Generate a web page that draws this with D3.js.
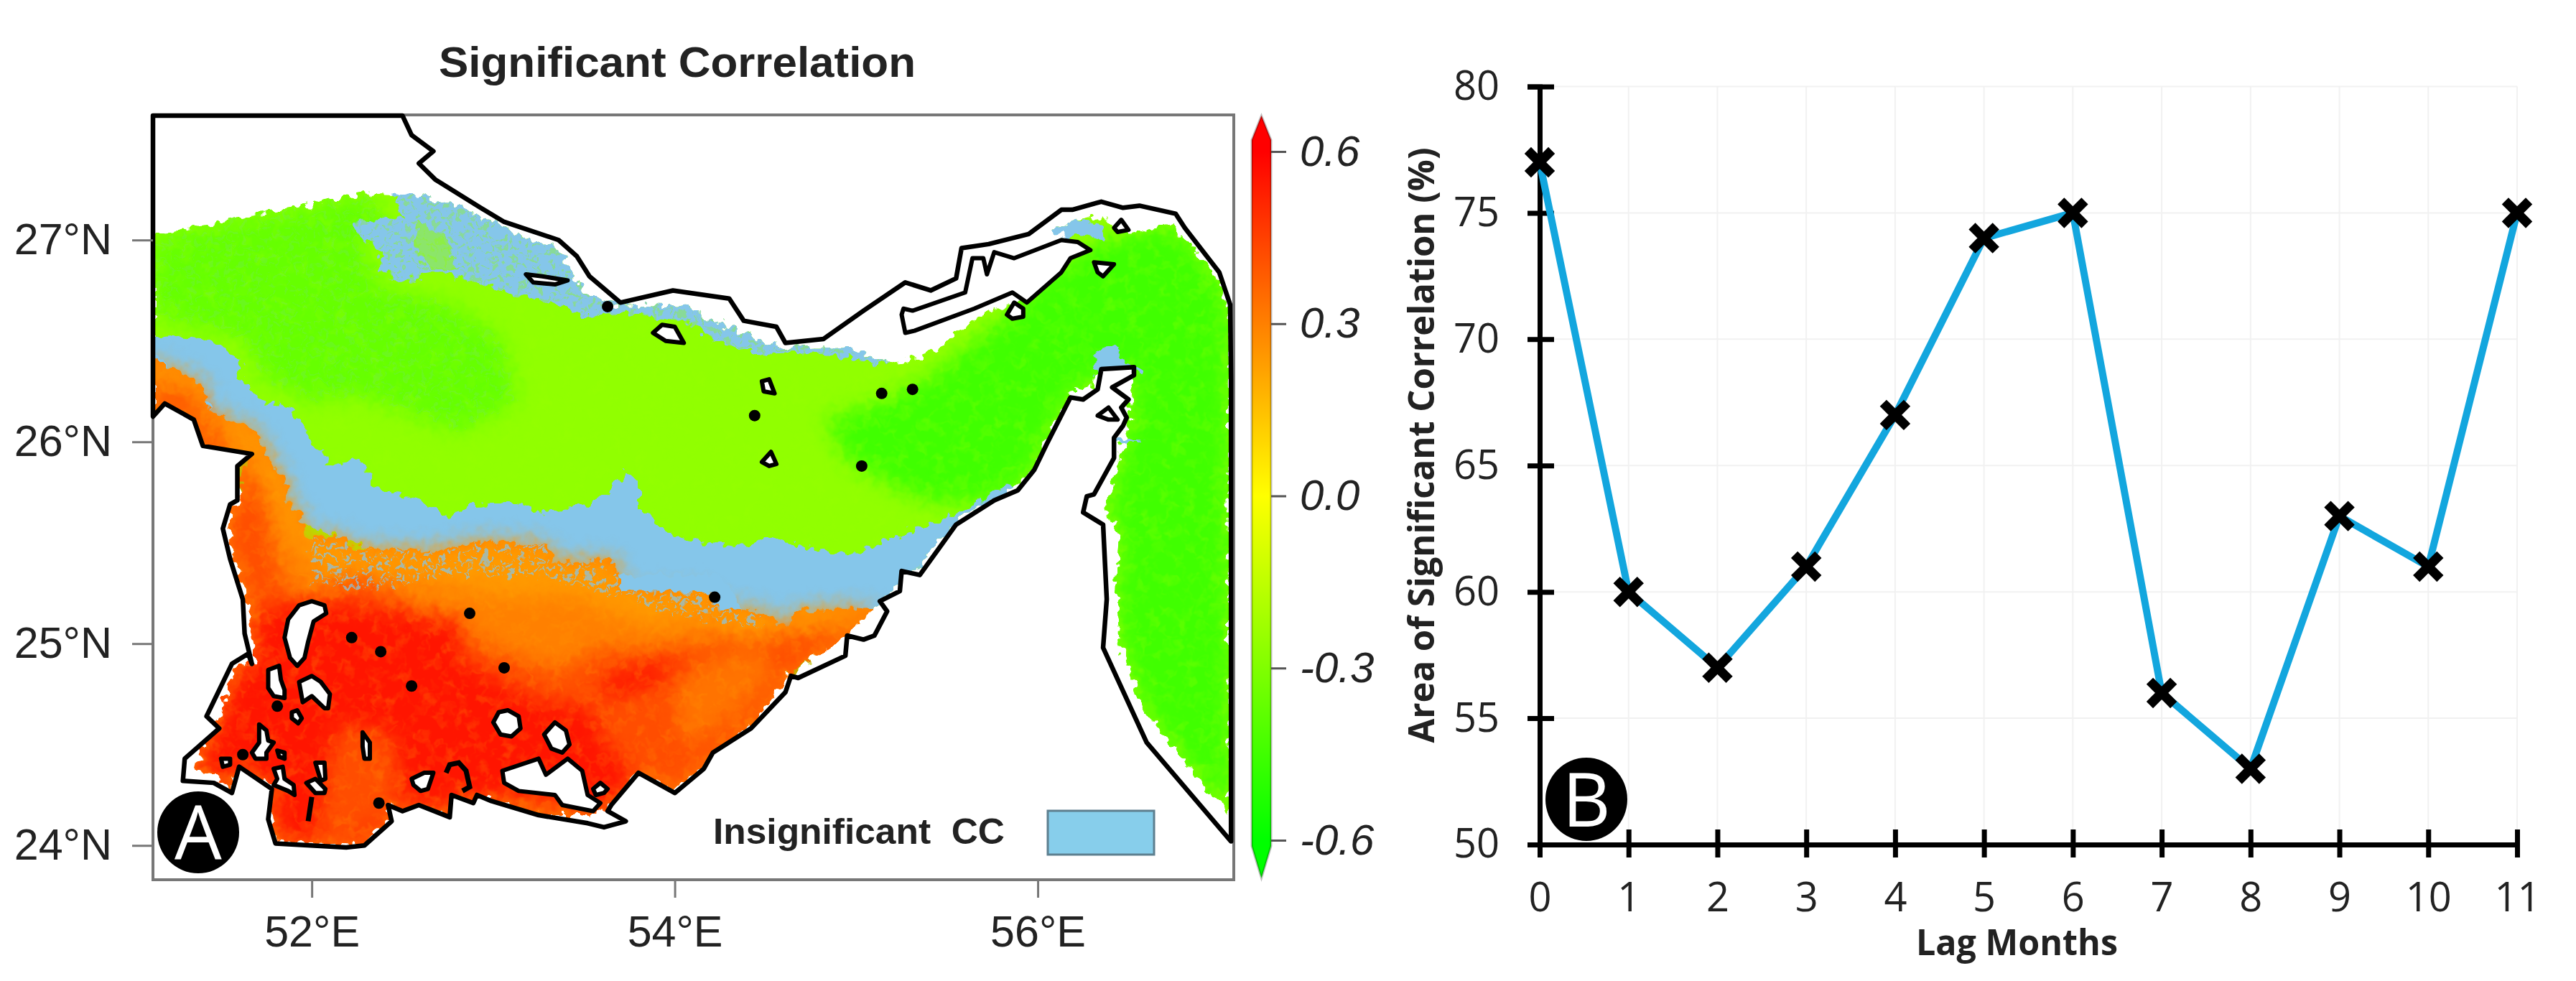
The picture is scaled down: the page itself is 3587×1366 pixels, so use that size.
<!DOCTYPE html>
<html>
<head>
<meta charset="utf-8">
<script src="https://cdn.jsdelivr.net/npm/d3@7"></script>
<style>
  html, body { margin: 0; padding: 0; background: #fff; }
  svg { display: block; }
  text { fill: #222; }
  .map-label { font-family: "Liberation Sans", Arial, sans-serif; font-size: 61px; }
  .cb-label { font-family: "Liberation Sans", Arial, sans-serif; font-size: 60px; font-style: italic; }
  .tick-b { font-family: "Liberation Sans Narrow", "Open Sans", sans-serif; font-size: 56px; }
  .title-b { font-family: "Open Sans", sans-serif; font-weight: 700; font-size: 50px; }
</style>
</head>
<body>
<svg id="chart" width="3587" height="1366"></svg>
<script>
// Panel B values
const lagMonths = [0, 1, 2, 3, 4, 5, 6, 7, 8, 9, 10, 11];
const areaPct = [77, 60, 57, 61, 67, 74, 75, 56, 53, 63, 61, 75];
const areaTicks = [50, 55, 60, 65, 70, 75, 80];

// Panel A ticks
const lonTicks = [52, 54, 56];
const latTicks = [24, 25, 26, 27];
const ccTicks = [0.6, 0.3, 0.0, -0.3, -0.6];
const ccStops = [-0.6, -0.3, 0, 0.3, 0.6];
const ccOutline = [[-1, -0.61], [0, -0.666], [1, -0.61], [1, 0.62], [0, 0.6625], [-1, 0.62]];

// Correlation of each digitized patch (estimated from its colour)
const ccLime = -0.26, ccGreenNW = -0.36, ccGreenE = -0.45;
const ccFringe = 0.24, ccOrange = 0.3, ccMid = 0.42, ccCore = 0.55, ccPatch = 0.33;

// Coastline in lon/lat, going round the sea from the west end of the Iranian side
const coastNorth = [[51.125,26.125],[51.125,27.616],[52.50,27.616],[52.55,27.52],[52.67,27.44],[52.59,27.38],[52.68,27.30],[52.93,27.16],[53.06,27.09],[53.36,27.00],[53.46,26.92],[53.53,26.82],[53.70,26.69],[53.99,26.75],[54.30,26.71],[54.38,26.60],[54.56,26.57],[54.61,26.49],[54.82,26.51],[55.04,26.65],[55.27,26.79],[55.41,26.75],[55.55,26.81],[55.58,26.96],[55.73,26.98],[55.95,27.03],[56.13,27.15],[56.19,27.15],[56.35,27.19],[56.47,27.16],[56.56,27.17],[56.76,27.13],[56.81,27.06],[57.00,26.84],[57.06,26.68],[57.065,26.31],[57.065,24.02]];
const coastSouth = [[56.60,24.51],[56.36,24.98],[56.38,25.22],[56.36,25.59],[56.25,25.65],[56.27,25.73],[56.31,25.74],[56.42,25.92],[56.42,26.02],[56.47,26.08],[56.49,26.12],[56.46,26.17],[56.50,26.21],[56.41,26.27],[56.53,26.33],[56.53,26.37],[56.35,26.36],[56.33,26.26],[56.25,26.21],[56.18,26.22],[56.05,25.99],[55.98,25.86],[55.89,25.76],[55.76,25.71],[55.62,25.63],[55.55,25.59],[55.35,25.34],[55.25,25.36],[55.24,25.26],[55.13,25.21],[55.17,25.16],[55.10,25.04],[55.04,25.02],[54.95,25.04],[54.94,24.94],[54.68,24.83],[54.64,24.84],[54.61,24.76],[54.42,24.58],[54.21,24.46],[54.16,24.38],[54.00,24.26],[53.80,24.36],[53.65,24.20],[53.63,24.17],[53.73,24.12],[53.61,24.09],[53.52,24.11],[53.25,24.15],[52.99,24.22],[52.91,24.25],[52.89,24.21],[52.77,24.25],[52.76,24.14],[52.59,24.20],[52.50,24.17],[52.42,24.20],[52.44,24.12],[52.29,24.00],[52.19,23.99],[51.80,24.01],[51.76,24.13],[51.78,24.28],[51.60,24.39],[51.56,24.26],[51.46,24.31],[51.29,24.32],[51.30,24.43],[51.49,24.58],[51.42,24.64],[51.56,24.90],[51.65,24.95],[51.67,24.90],[51.63,25.05],[51.62,25.22],[51.55,25.42],[51.51,25.57],[51.55,25.69],[51.59,25.71],[51.59,25.88],[51.67,25.94],[51.40,25.98],[51.35,26.11],[51.19,26.19]];

// Islands drawn white with a black outline
const islands = [
  [[55.26,26.66],[55.31,26.65],[55.60,26.74],[55.64,26.91],[55.70,26.91],[55.72,26.83],[55.76,26.94],[55.87,26.91],[56.13,27.00],[56.22,26.99],[56.29,26.95],[56.18,26.91],[56.13,26.84],[55.94,26.69],[55.86,26.74],[55.65,26.66],[55.32,26.55],[55.27,26.54],[55.25,26.63]],
  [[55.83,26.63],[55.87,26.69],[55.92,26.66],[55.92,26.62],[55.86,26.61]],
  [[56.31,26.89],[56.42,26.88],[56.36,26.82],[56.33,26.84]],
  [[56.42,27.06],[56.46,27.10],[56.50,27.05],[56.44,27.04]],
  [[56.33,26.13],[56.39,26.17],[56.44,26.11],[56.39,26.11]],
  [[53.18,26.83],[53.27,26.82],[53.41,26.80],[53.34,26.78],[53.22,26.79]],
  [[53.88,26.54],[53.93,26.58],[54.00,26.57],[54.05,26.49],[53.95,26.50]],
  [[54.48,26.30],[54.52,26.31],[54.55,26.24],[54.49,26.25]],
  [[54.48,25.90],[54.53,25.95],[54.56,25.89],[54.52,25.88]],
  [[52.00,25.21],[52.07,25.19],[52.08,25.15],[52.01,25.11],[51.98,25.01],[51.96,24.93],[51.92,24.89],[51.88,24.93],[51.85,25.03],[51.87,25.12],[51.93,25.19]],
  [[51.76,24.87],[51.82,24.89],[51.83,24.82],[51.85,24.77],[51.85,24.73],[51.79,24.74],[51.76,24.78]],
  [[51.93,24.81],[52.00,24.84],[52.05,24.81],[52.10,24.75],[52.09,24.68],[52.07,24.68],[52.00,24.74],[51.95,24.71]],
  [[51.89,24.66],[51.92,24.67],[51.945,24.63],[51.925,24.605],[51.89,24.63]],
  [[51.71,24.60],[51.75,24.57],[51.76,24.52],[51.79,24.51],[51.75,24.46],[51.75,24.43],[51.69,24.43],[51.67,24.46],[51.71,24.51]],
  [[51.81,24.47],[51.85,24.46],[51.85,24.43],[51.82,24.44]],
  [[51.50,24.43],[51.55,24.43],[51.55,24.40],[51.51,24.39]],
  [[51.79,24.38],[51.84,24.39],[51.85,24.33],[51.90,24.30],[51.905,24.25],[51.87,24.27],[51.79,24.30],[51.81,24.33]],
  [[52.02,24.41],[52.07,24.41],[52.075,24.33],[52.05,24.32]],
  [[51.97,24.31],[52.02,24.33],[52.075,24.28],[52.07,24.26],[52.02,24.26]],
  [[52.28,24.56],[52.32,24.51],[52.32,24.43],[52.29,24.43],[52.28,24.49]],
  [[52.55,24.33],[52.62,24.36],[52.67,24.36],[52.64,24.28],[52.60,24.27],[52.56,24.30]],
  [[53.00,24.61],[53.03,24.66],[53.08,24.67],[53.14,24.64],[53.15,24.58],[53.10,24.54],[53.04,24.55]],
  [[53.28,24.55],[53.34,24.61],[53.40,24.57],[53.42,24.50],[53.38,24.46],[53.32,24.48]],
  [[53.05,24.37],[53.25,24.43],[53.29,24.35],[53.41,24.43],[53.49,24.37],[53.52,24.25],[53.59,24.21],[53.55,24.17],[53.38,24.20],[53.34,24.25],[53.14,24.27],[53.06,24.31]],
  [[53.55,24.28],[53.59,24.31],[53.63,24.28],[53.61,24.26],[53.565,24.25]]
];
// Open strokes: the loop east of the central islets and the thin spit
const islandLines = [
  [[52.74,24.36],[52.76,24.40],[52.81,24.41],[52.85,24.37],[52.87,24.29],[52.83,24.27]],
  [[52.00,24.24],[51.98,24.12]]
];
// Islets too small to show anything but ink
const islets = [[55.03,25.88],[55.14,26.24],[55.31,26.26],[54.44,26.13],[53.63,26.67],[52.87,25.15],[53.06,24.88],[54.22,25.23],[52.22,25.03],[52.38,24.96],[52.55,24.79],[52.37,24.21],[51.81,24.69],[51.62,24.45]];

// Digitized extents of the correlation field
const limeArea = [[51.125,27.02],[52.30,27.23],[52.63,27.22],[52.81,27.17],[53.06,27.06],[53.36,26.95],[53.44,26.81],[53.56,26.71],[53.69,26.68],[54.07,26.67],[54.21,26.60],[54.53,26.48],[54.62,26.46],[54.95,26.47],[55.18,26.39],[55.38,26.42],[55.53,26.53],[55.72,26.65],[55.90,26.69],[56.06,26.83],[56.24,26.94],[56.09,27.05],[56.21,27.10],[56.36,27.12],[56.42,27.06],[56.51,27.03],[56.74,27.08],[56.81,27.01],[57.00,26.80],[57.05,26.66],[57.06,24.16],[56.92,24.29],[56.60,24.65],[56.45,25.00],[56.43,25.22],[56.45,25.54],[56.38,25.65],[56.42,25.82],[56.50,26.06],[56.53,26.35],[56.32,26.36],[56.31,26.27],[56.19,26.26],[56.05,26.01],[55.97,25.86],[55.87,25.77],[55.66,25.67],[55.55,25.61],[55.35,25.39],[55.19,25.25],[55.09,25.17],[54.64,24.84],[54.24,25.34],[52.66,25.34],[51.87,25.34],[51.63,25.70],[51.43,26.20],[51.125,26.44]];
const greenEast = [[55.15,26.20],[55.43,26.34],[55.82,26.62],[56.06,26.83],[56.24,26.94],[56.36,27.00],[56.51,27.03],[56.74,27.08],[56.81,27.01],[57.00,26.80],[57.05,26.66],[57.06,24.16],[56.92,24.29],[56.60,24.65],[56.45,25.00],[56.43,25.22],[56.45,25.54],[56.38,25.65],[56.42,25.82],[56.50,26.06],[56.53,26.35],[56.32,26.36],[56.31,26.27],[56.19,26.26],[56.05,26.01],[55.97,25.86],[55.87,25.77],[55.66,25.70],[55.40,25.70],[55.23,25.77],[54.95,25.91],[54.83,26.12]];
const greenNW = [[51.125,27.02],[52.30,27.23],[52.42,27.12],[52.26,26.98],[52.38,26.77],[52.74,26.69],[53.05,26.52],[53.13,26.20],[52.81,26.05],[52.26,26.23],[51.98,26.20],[51.71,26.33],[51.63,26.51],[51.125,26.62]];
const blueBand = [[51.125,26.51],[51.35,26.53],[51.51,26.48],[51.61,26.41],[51.60,26.33],[51.71,26.20],[51.87,26.17],[51.97,26.05],[51.98,25.99],[52.08,25.95],[52.08,25.88],[52.26,25.91],[52.31,25.85],[52.34,25.78],[52.58,25.72],[52.75,25.63],[52.87,25.69],[53.13,25.70],[53.27,25.65],[53.50,25.68],[53.65,25.75],[53.73,25.86],[53.80,25.80],[53.80,25.67],[54.00,25.53],[54.25,25.49],[54.35,25.48],[54.53,25.53],[54.78,25.46],[55.01,25.45],[55.24,25.54],[55.43,25.60],[55.56,25.65],[55.83,25.79],[55.88,25.77],[55.66,25.67],[55.55,25.61],[55.35,25.39],[55.19,25.25],[55.09,25.17],[54.64,25.06],[52.66,25.34],[51.87,25.63],[51.47,26.09],[51.125,26.34]];
const blueNorth = [[52.45,27.23],[52.63,27.22],[52.81,27.17],[53.06,27.06],[53.36,26.95],[53.44,26.81],[53.56,26.71],[53.69,26.68],[54.07,26.67],[54.21,26.60],[54.53,26.48],[54.62,26.46],[54.95,26.47],[55.18,26.39],[55.13,26.38],[54.78,26.44],[54.53,26.43],[54.25,26.49],[54.07,26.60],[53.72,26.64],[53.49,26.62],[53.41,26.67],[53.11,26.73],[52.91,26.79],[52.70,26.84],[52.48,26.79],[52.38,26.85],[52.38,26.95],[52.25,27.03],[52.23,27.09],[52.50,27.11]];
const limeInNorth = [[52.60,27.09],[52.74,27.01],[52.81,26.85],[52.66,26.85],[52.56,26.96]];
const blueStrait = [[56.09,27.05],[56.21,27.10],[56.35,27.07],[56.36,27.00],[56.23,27.03],[56.14,27.01]];
const blueOman = [[56.35,26.47],[56.44,26.47],[56.47,26.39],[56.57,26.36],[56.53,26.33],[56.33,26.36],[56.31,26.33],[56.30,26.37]];
const blueOman2 = [[56.44,26.02],[56.57,26.01],[56.57,26.00],[56.44,25.98]];
const southCoast = [[54.94,25.04],[54.65,24.86],[54.42,24.59],[54.16,24.39],[54.00,24.27],[53.80,24.36],[53.66,24.20],[53.53,24.15],[53.25,24.15],[52.99,24.22],[52.91,24.25],[52.89,24.21],[52.77,24.25],[52.76,24.14],[52.59,24.20],[52.50,24.17],[52.42,24.20],[52.43,24.12],[52.28,24.00],[51.80,24.02],[51.78,24.16],[51.78,24.29],[51.65,24.36],[51.59,24.38],[51.55,24.27],[51.52,24.31],[51.35,24.39],[51.49,24.63],[51.53,24.77],[51.60,24.90],[51.69,24.90],[51.66,25.06],[51.65,25.22],[51.57,25.42],[51.53,25.57],[51.56,25.68],[51.61,25.70],[51.61,25.86],[51.67,25.93],[51.40,25.96],[51.35,26.11],[51.19,26.18],[51.125,26.125]];
const orangeTop = [[51.125,26.41],[51.20,26.37],[51.35,26.31],[51.41,26.26],[51.42,26.16],[51.52,26.12],[51.68,26.06],[51.73,25.98],[51.81,25.85],[51.86,25.81],[51.86,25.70],[51.94,25.64],[51.97,25.53],[52.18,25.53],[52.22,25.47],[52.44,25.47],[52.66,25.46],[52.96,25.51],[53.29,25.49],[53.35,25.40],[53.66,25.42],[53.72,25.27],[53.93,25.26],[54.17,25.26],[54.25,25.18],[54.48,25.16],[54.62,25.08],[54.67,25.16],[55.11,25.18]];
const orangeArea = orangeTop.concat(southCoast);
const fringeLow = [[54.83,25.02],[54.44,24.99],[54.16,25.13],[53.84,25.09],[53.45,25.23],[53.05,25.23],[52.70,25.31],[52.34,25.34],[52.06,25.34],[51.92,25.48],[51.79,25.63],[51.63,25.84],[51.51,26.05],[51.31,26.20],[51.125,26.34]];
const fringeArea = orangeTop.concat(fringeLow);
const fringeSpeckle = [[51.97,25.53],[52.18,25.53],[52.22,25.47],[52.44,25.47],[52.66,25.46],[52.96,25.51],[53.29,25.49],[53.35,25.40],[53.66,25.42],[53.72,25.27],[53.93,25.26],[54.17,25.26],[54.25,25.18],[54.48,25.16],[54.48,25.08],[54.00,25.14],[53.60,25.25],[53.20,25.33],[52.70,25.33],[52.35,25.26],[52.00,25.30]];
const midTop = [[51.125,26.27],[51.32,26.25],[51.43,26.09],[51.65,25.88],[51.75,25.73],[51.77,25.48],[51.885,25.23],[52.06,25.25],[52.26,25.34],[52.66,25.13],[53.01,24.97],[53.36,24.86],[53.57,24.97],[53.98,24.97],[54.25,25.02],[54.44,25.02],[54.95,25.09],[55.09,25.16]];
const midArea = midTop.concat(southCoast);
const orangePatch = [[54.03,24.83],[54.25,24.94],[54.44,24.97],[54.58,24.88],[54.32,24.63],[54.08,24.49],[54.00,24.63]];
const redCore = [[51.67,25.10],[51.79,25.19],[52.21,25.20],[52.44,25.16],[52.83,25.12],[52.81,24.94],[53.04,24.81],[53.28,24.71],[53.55,24.68],[53.61,24.52],[53.76,24.38],[53.80,24.36],[53.66,24.20],[53.57,24.17],[53.37,24.24],[53.05,24.25],[52.89,24.21],[52.77,24.25],[52.76,24.14],[52.59,24.20],[52.50,24.17],[52.42,24.20],[52.43,24.12],[52.28,24.00],[51.80,24.02],[51.78,24.29],[51.65,24.36],[51.59,24.38],[51.55,24.27],[51.52,24.31],[51.35,24.39],[51.49,24.63],[51.53,24.77],[51.60,24.90],[51.69,24.90]];
const midSouth = [[52.14,24.59],[52.44,24.56],[52.50,24.24],[52.26,24.04],[52.02,24.02],[52.06,24.27]];
const redBlob = [[53.575,24.80],[53.72,24.875],[53.89,24.91],[54.07,24.96],[53.91,24.81],[53.65,24.72]];

const svg = d3.select("#chart");

// ---------- Panel A: map ----------
const mapLeft = 213, mapRight = 1718, mapTop = 160, mapBottom = 1225;
const xMap = d3.scaleLinear().domain([51.125, 57.08]).range([mapLeft, mapRight]);
const yMap = d3.scaleLinear().domain([23.83, 27.62]).range([mapBottom, mapTop]);
const ccColor = d3.scaleLinear().domain([-0.6, 0, 0.6]).range(["#00ff00", "#ffff00", "#ff0000"]);
const insignificant = "#85c6ea";

const ring = d3.line().x(d => xMap(d[0])).y(d => yMap(d[1])).curve(d3.curveLinearClosed);
const openLine = d3.line().x(d => xMap(d[0])).y(d => yMap(d[1]));
const seaRing = coastNorth.concat(coastSouth);

const defs = svg.append("defs");
defs.append("clipPath").attr("id", "sea").append("path").attr("d", ring(seaRing));
const fieldClip = defs.append("clipPath").attr("id", "field");
fieldClip.append("path").attr("d", ring(limeArea));
fieldClip.append("path").attr("d", ring(orangeArea));

function mapFilter(id) {
    return defs.append("filter").attr("id", id)
        .attr("filterUnits", "userSpaceOnUse")
        .attr("x", mapLeft).attr("y", mapTop)
        .attr("width", mapRight - mapLeft).attr("height", mapBottom - mapTop)
        .attr("color-interpolation-filters", "sRGB");
}

// Rough edge: the raster in the reference has a blocky, noisy border
const rough = mapFilter("rough");
rough.append("feTurbulence").attr("type", "fractalNoise").attr("baseFrequency", 0.08)
    .attr("numOctaves", 2).attr("seed", 4).attr("result", "n");
rough.append("feDisplacementMap").attr("in", "SourceGraphic").attr("in2", "n")
    .attr("scale", 22).attr("xChannelSelector", "R").attr("yChannelSelector", "G");

mapFilter("soft").append("feGaussianBlur").attr("stdDeviation", 14);

// Grain: noise used as a mask for the fill of whatever it is put on
function grainFilter(id, freq, gain, offset, seed) {
    const f = mapFilter(id);
    f.append("feTurbulence").attr("type", "fractalNoise").attr("baseFrequency", freq)
        .attr("numOctaves", 2).attr("seed", seed).attr("result", "n");
    f.append("feColorMatrix").attr("in", "n").attr("type", "matrix")
        .attr("values", "0 0 0 0 0  0 0 0 0 0  0 0 0 0 0  " + gain + " 0 0 0 " + offset).attr("result", "m");
    f.append("feComposite").attr("in", "SourceGraphic").attr("in2", "m").attr("operator", "in");
}
grainFilter("mottle", 0.06, 3, -1.4, 7);
grainFilter("speckle", 0.14, 14, -7.9, 11);

function grain(parent, area, colour, filterId, opacity) {
    const clipId = "grain" + (grain.count = (grain.count || 0) + 1);
    defs.append("clipPath").attr("id", clipId).append("path").attr("d", ring(area));
    parent.append("g").attr("clip-path", "url(#" + clipId + ")")
        .append("rect")
        .attr("x", mapLeft).attr("y", mapTop)
        .attr("width", mapRight - mapLeft).attr("height", mapBottom - mapTop)
        .attr("fill", colour).attr("opacity", opacity).attr("filter", "url(#" + filterId + ")");
}

// Frame
svg.append("rect")
    .attr("x", mapLeft).attr("y", mapTop)
    .attr("width", mapRight - mapLeft).attr("height", mapBottom - mapTop)
    .attr("fill", "#fff").attr("stroke", "#777").attr("stroke-width", 4);

// Correlation field, clipped to the sea
const field = svg.append("g").attr("clip-path", "url(#sea)").append("g").attr("filter", "url(#rough)");
field.append("path").attr("d", ring(limeArea)).attr("fill", ccColor(ccLime));
const softGreen = field.append("g").attr("clip-path", "url(#field)").append("g").attr("filter", "url(#soft)");
softGreen.append("path").attr("d", ring(greenNW)).attr("fill", ccColor(ccGreenNW));
softGreen.append("path").attr("d", ring(greenEast)).attr("fill", ccColor(ccGreenE));
grain(field, limeArea, ccColor(-0.24), "mottle", 0.3);
[blueBand, blueNorth, blueStrait, blueOman, blueOman2].forEach(function(a) {
    field.append("path").attr("d", ring(a)).attr("fill", insignificant);
});
field.append("path").attr("d", ring(limeInNorth)).attr("fill", ccColor(ccLime)).attr("opacity", 0.55);
grain(field, blueNorth, ccColor(ccLime), "speckle", 0.35);
grain(field, greenNW, insignificant, "speckle", 0.12);
field.append("path").attr("d", ring(orangeArea)).attr("fill", ccColor(ccOrange));
const softRed = field.append("g").attr("clip-path", "url(#field)").append("g").attr("filter", "url(#soft)");
softRed.append("path").attr("d", ring(fringeArea)).attr("fill", ccColor(ccFringe));
softRed.append("path").attr("d", ring(midArea)).attr("fill", ccColor(ccMid));
softRed.append("path").attr("d", ring(orangePatch)).attr("fill", ccColor(ccPatch));
softRed.append("path").attr("d", ring(redCore)).attr("fill", ccColor(ccCore));
softRed.append("path").attr("d", ring(midSouth)).attr("fill", ccColor(ccMid));
softRed.append("path").attr("d", ring(redBlob)).attr("fill", ccColor(ccCore));
grain(field, orangeArea, ccColor(0.22), "mottle", 0.25);
grain(field, fringeSpeckle, insignificant, "speckle", 0.7);

// Coast and islands
svg.append("path").attr("d", ring(seaRing))
    .attr("fill", "none").attr("stroke", "#000").attr("stroke-width", 6.5).attr("stroke-linejoin", "round");
svg.append("g").selectAll("path").data(islands).join("path")
    .attr("d", ring).attr("fill", "#fff").attr("stroke", "#000").attr("stroke-width", 6).attr("stroke-linejoin", "round");
svg.append("g").selectAll("path").data(islandLines).join("path")
    .attr("d", openLine).attr("fill", "none").attr("stroke", "#000").attr("stroke-width", 7);
svg.append("g").selectAll("circle").data(islets).join("circle")
    .attr("cx", d => xMap(d[0])).attr("cy", d => yMap(d[1])).attr("r", 8).attr("fill", "#000");

// Map axes
const latAxis = svg.append("g").attr("transform", "translate(" + mapLeft + ",0)")
    .call(d3.axisLeft(yMap).tickValues(latTicks).tickSize(29).tickPadding(28).tickFormat(d => d + "°N"));
const lonAxis = svg.append("g").attr("transform", "translate(0," + mapBottom + ")")
    .call(d3.axisBottom(xMap).tickValues(lonTicks).tickSize(25).tickPadding(25).tickFormat(d => d + "°E"));
[latAxis, lonAxis].forEach(function(a) {
    a.attr("font-family", null).attr("font-size", null);
    a.select(".domain").remove();
    a.selectAll("line").attr("stroke", "#777").attr("stroke-width", 3);
    a.selectAll("text").attr("class", "map-label").attr("fill", "#222");
});

// Title
svg.append("text").attr("x", 611).attr("y", 107)
    .attr("font-family", "Liberation Sans, Arial, sans-serif").attr("font-weight", 700).attr("font-size", 60)
    .attr("textLength", 664).attr("lengthAdjust", "spacingAndGlyphs")
    .text("Significant Correlation");

// Colour bar
const cbLeft = 1743, cbRight = 1770;
const yBar = d3.scaleLinear().domain([-0.6, 0.6]).range([1170, 211]);
const xBar = d3.scaleLinear().domain([-1, 1]).range([cbLeft, cbRight]);
const cbGrad = defs.append("linearGradient").attr("id", "ccGrad")
    .attr("gradientUnits", "userSpaceOnUse")
    .attr("x1", 0).attr("x2", 0).attr("y1", yBar(-0.6)).attr("y2", yBar(0.6));
cbGrad.selectAll("stop").data(ccStops).join("stop")
    .attr("offset", d => (d + 0.6) / 1.2)
    .attr("stop-color", d => ccColor(d));
svg.append("path")
    .attr("d", d3.line().x(d => xBar(d[0])).y(d => yBar(d[1])).curve(d3.curveLinearClosed)(ccOutline))
    .attr("fill", "url(#ccGrad)").attr("stroke", "#000").attr("stroke-opacity", 0.25).attr("stroke-width", 3);
const cbAxis = svg.append("g").attr("transform", "translate(" + cbRight + ",0)")
    .call(d3.axisRight(yBar).tickValues(ccTicks).tickSize(21).tickPadding(19)
        .tickFormat(d => d3.format(".1f")(d).replace("\u2212", "-")));
cbAxis.select(".domain").remove();
cbAxis.attr("font-family", null).attr("font-size", null);
cbAxis.selectAll("line").attr("stroke", "#555").attr("stroke-width", 3);
cbAxis.selectAll("text").attr("class", "cb-label").attr("fill", "#222");

// Legend for the insignificant cells
svg.append("text").attr("x", 993).attr("y", 1175)
    .attr("font-family", "Liberation Sans, Arial, sans-serif").attr("font-weight", 700).attr("font-size", 50)
    .attr("textLength", 406).attr("lengthAdjust", "spacingAndGlyphs")
    .style("white-space", "pre")
    .text("Insignificant  CC");
svg.append("rect").attr("x", 1459).attr("y", 1129).attr("width", 148).attr("height", 61)
    .attr("fill", "#87ceeb").attr("stroke", "#5d7f8f").attr("stroke-width", 3);

// Panel letters
function panelLetter(cx, cy, rx, ry, letter) {
    svg.append("ellipse").attr("cx", cx).attr("cy", cy).attr("rx", rx).attr("ry", ry).attr("fill", "#000");
    svg.append("text").attr("x", cx).attr("y", cy + 38).attr("text-anchor", "middle")
        .attr("font-family", "Open Sans, sans-serif").attr("font-weight", 400).attr("font-size", 104)
        .style("fill", "#fff").text(letter);
}
panelLetter(276, 1159, 57, 57, "A");
panelLetter(2209, 1113, 57, 58, "B");

// ---------- Panel B: line chart ----------
const left = 2144, right = 3505, top_ = 120.5, bottom = 1176;
const x = d3.scaleLinear().domain([0, 11]).range([left, right]);
const y = d3.scaleLinear().domain([50, 80]).range([bottom, top_]);

// Light grid
const grid = svg.append("g").attr("stroke", "#f1f1f1").attr("stroke-width", 2);
grid.selectAll(".gy").data(areaTicks).join("line").attr("class", "gy")
    .attr("x1", left).attr("x2", right).attr("y1", d => y(d)).attr("y2", d => y(d));
grid.selectAll(".gx").data(lagMonths).join("line").attr("class", "gx")
    .attr("x1", d => x(d)).attr("x2", d => x(d)).attr("y1", top_).attr("y2", bottom);

// Axes, ticks cross the axis line
const yAxis = svg.append("g").attr("transform", "translate(" + left + ",0)")
    .call(d3.axisLeft(y).tickValues(areaTicks).tickSize(17).tickPadding(39));
const xAxis = svg.append("g").attr("transform", "translate(0," + bottom + ")")
    .call(d3.axisBottom(x).tickValues(lagMonths).tickSize(18).tickPadding(35).tickFormat(d3.format("d")));
yAxis.selectAll("line").attr("x2", 20).attr("x1", -17);
xAxis.selectAll("line").attr("y1", -21).attr("y2", 18);
[xAxis, yAxis].forEach(function(a) {
    a.attr("font-family", null).attr("font-size", null);
    a.select(".domain").attr("stroke", "#000").attr("stroke-width", 7);
    a.selectAll("line").attr("stroke", "#000").attr("stroke-width", 7);
    a.selectAll("text").attr("class", "tick-b").attr("fill", "#333");
});

// Data line
const valueline = d3.line().x(d => x(d.lag)).y(d => y(d.area));
const points = lagMonths.map((m, i) => ({lag: m, area: areaPct[i]}));
svg.append("path").datum(points).attr("d", valueline)
    .attr("fill", "none").attr("stroke", "#13a6de").attr("stroke-width", 10).attr("stroke-linejoin", "round");

// X markers
const marker = d3.symbol().type(d3.symbolTimes).size(380);
svg.append("g").selectAll("path").data(points).join("path")
    .attr("transform", d => "translate(" + x(d.lag) + "," + y(d.area) + ")")
    .attr("d", marker).attr("fill", "none").attr("stroke", "#000").attr("stroke-width", 13).attr("stroke-linecap", "square");

// Axis titles
svg.append("text").attr("class", "title-b")
    .attr("transform", "translate(1997,620) rotate(-90)")
    .attr("text-anchor", "middle")
    .attr("textLength", 829).attr("lengthAdjust", "spacingAndGlyphs")
    .text("Area of Significant Correlation (%)");
svg.append("text").attr("class", "title-b").attr("x", 2668).attr("y", 1330)
    .attr("textLength", 281).attr("lengthAdjust", "spacingAndGlyphs")
    .text("Lag Months");
</script>
</body>
</html>
